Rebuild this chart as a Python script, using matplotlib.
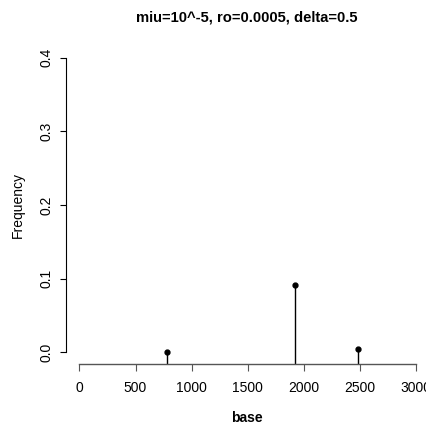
import matplotlib
matplotlib.use("Agg")
import matplotlib.pyplot as plt

plt.rcParams['font.family'] = ['Liberation Sans', 'DejaVu Sans']

base = [784, 1920, 2487]
freq = [0.0005, 0.0916, 0.0037]
xticks = [0, 500, 1000, 1500, 2000, 2500, 3000]
yticks = [0.0, 0.1, 0.2, 0.3, 0.4]

fig = plt.figure(figsize=(4.27, 4.24), dpi=100)
ax = fig.add_axes([66/427, (424-364)/424, (429.5-66)/427, (364-46)/424])
ax.set_xlim(-120, 3120)
ax.set_ylim(-0.016, 0.416)

ax.vlines(base, -0.016, freq, color='black', lw=1)
ax.plot(base, freq, 'o', color='black', ms=3.5)

for s in ['top', 'right']:
    ax.spines[s].set_visible(False)
ax.spines['left'].set_bounds(0, 0.4)
ax.spines['left'].set_linestyle((0, (1, 1)))
ax.spines['left'].set_linewidth(0.8)
ax.spines['bottom'].set_bounds(0, 3000)
ax.spines['bottom'].set_color('#555555')
ax.spines['bottom'].set_linewidth(1)

ax.set_xticks(xticks)
ax.set_xticklabels([str(v) for v in xticks])
ax.set_yticks(yticks)
ax.set_yticklabels([f"{v:.1f}" for v in yticks], rotation=90, va='center')
ax.tick_params(axis='x', length=5, width=0.8, color='#555555', labelsize=10, pad=7)
ax.tick_params(axis='y', length=4, width=0.8, labelsize=10, pad=5)

fig.text(247/427, 1 - 418/424, 'base', ha='center', va='center', fontsize=10, fontweight='bold')
fig.text(18/427, 1 - 205/424, 'Frequency', ha='center', va='center', fontsize=10, rotation=90)
fig.text(247/427, 1 - 18/424, 'miu=10^-5, ro=0.0005, delta=0.5', ha='center', va='center',
         fontsize=10.6, fontweight='bold')

fig.savefig('out.png', dpi=100)
